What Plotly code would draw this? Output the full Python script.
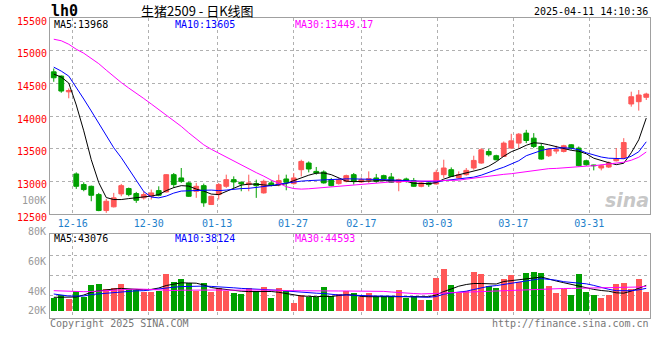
import plotly.graph_objects as go

# ---------------- data ----------------
dates = [
    "2024-12-11", "2024-12-12", "2024-12-13", "2024-12-16", "2024-12-17", "2024-12-18", "2024-12-19", "2024-12-20",
    "2024-12-23", "2024-12-24", "2024-12-25", "2024-12-26", "2024-12-27", "2024-12-30", "2024-12-31", "2025-01-02",
    "2025-01-03", "2025-01-06", "2025-01-07", "2025-01-08", "2025-01-09", "2025-01-10", "2025-01-13", "2025-01-14",
    "2025-01-15", "2025-01-16", "2025-01-17", "2025-01-20", "2025-01-21", "2025-01-22", "2025-01-23", "2025-01-24",
    "2025-01-27", "2025-02-05", "2025-02-06", "2025-02-07", "2025-02-10", "2025-02-11", "2025-02-12", "2025-02-13",
    "2025-02-14", "2025-02-17", "2025-02-18", "2025-02-19", "2025-02-20", "2025-02-21", "2025-02-24", "2025-02-25",
    "2025-02-26", "2025-02-27", "2025-02-28", "2025-03-03", "2025-03-04", "2025-03-05", "2025-03-06", "2025-03-07",
    "2025-03-10", "2025-03-11", "2025-03-12", "2025-03-13", "2025-03-14", "2025-03-17", "2025-03-18", "2025-03-19",
    "2025-03-20", "2025-03-21", "2025-03-24", "2025-03-25", "2025-03-26", "2025-03-27", "2025-03-28", "2025-03-31",
    "2025-04-01", "2025-04-02", "2025-04-03", "2025-04-07", "2025-04-08", "2025-04-09", "2025-04-10", "2025-04-11",
]

opens = [14676, 14611, 14370, 13113, 12950, 12924, 12797, 12553, 12610, 12808,
         12889, 12813, 12747, 12771, 12858, 12838, 13102, 13052, 12976, 12848,
         12934, 12645, 12797, 12924, 13026, 12985, 12950, 12965, 12823, 12976,
         12950, 13036, 12965, 13178, 13280, 13152, 13143, 13026, 12965, 13000,
         13102, 12990, 13015, 13052, 13087, 13067, 12985, 13036, 13011, 12924,
         12976, 12960, 13102, 13178, 13052, 13102, 13204, 13280, 13457, 13392,
         13381, 13509, 13585, 13738, 13661, 13533, 13392, 13463, 13457, 13559,
         13509, 13315, 13250, 13204, 13219, 13315, 13357, 14184, 14219, 14286]
highs = [14728, 14620, 14423, 13137, 12985, 12935, 12823, 12732, 12823, 12960,
         12905, 12838, 12848, 12874, 12924, 13110, 13128, 13204, 12995, 12976,
         12965, 12780, 12976, 13102, 13076, 13000, 13102, 13026, 13026, 13015,
         13102, 13102, 13128, 13331, 13305, 13220, 13168, 13052, 13052, 13102,
         13128, 13061, 13152, 13113, 13102, 13128, 13041, 13056, 13052, 13000,
         13000, 13178, 13331, 13213, 13152, 13204, 13392, 13509, 13494, 13407,
         13610, 13727, 13738, 13788, 13738, 13585, 13509, 13544, 13559, 13570,
         13533, 13331, 13254, 13254, 13305, 13509, 13661, 14372, 14397, 14356]
lows = [14524, 14356, 14271, 12884, 12848, 12695, 12543, 12518, 12600, 12771,
        12771, 12671, 12721, 12721, 12771, 12830, 12899, 12976, 12760, 12747,
        12610, 12640, 12721, 12899, 12899, 12848, 12848, 12747, 12812, 12924,
        12924, 12863, 12950, 13076, 13137, 13102, 12965, 12924, 12950, 12985,
        12950, 12976, 12976, 12976, 13000, 12976, 12848, 12980, 12915, 12909,
        12915, 12950, 13052, 13067, 13041, 13087, 13178, 13270, 13381, 13320,
        13372, 13494, 13509, 13585, 13509, 13331, 13372, 13422, 13442, 13483,
        13229, 13239, 13168, 13168, 13204, 13305, 13341, 14143, 14082, 14245]
closes = [14585, 14382, 14390, 12924, 12874, 12787, 12553, 12695, 12747, 12934,
          12797, 12710, 12797, 12823, 12787, 13102, 12950, 13000, 12771, 12924,
          12671, 12771, 12950, 13026, 12990, 12960, 12976, 12934, 13000, 12940,
          13011, 12985, 13052, 13305, 13189, 13128, 12976, 12934, 13026, 13087,
          13000, 13026, 13041, 13000, 13036, 12985, 13026, 13000, 12924, 12976,
          12950, 13137, 13204, 13076, 13102, 13168, 13320, 13483, 13407, 13331,
          13585, 13620, 13722, 13625, 13533, 13341, 13494, 13483, 13544, 13509,
          13239, 13254, 13240, 13239, 13280, 13341, 13594, 14295, 14321, 14336]

ma5 = [14641, 14596, 14504, 14169, 13773, 13331, 12980, 12752, 12721, 12721,
       12736, 12747, 12759, 12774, 12797, 12858, 12904, 12934, 12927, 12881,
       12851, 12805, 12797, 12843, 12896, 12942, 12957, 12957, 12945, 12934,
       12942, 12965, 13011, 13056, 13094, 13125, 13128, 13102, 13049, 13003,
       12995, 13000, 13011, 13011, 13011, 13011, 13003, 13000, 12970, 12965,
       12965, 12980, 13034, 13072, 13102, 13133, 13155, 13186, 13232, 13300,
       13384, 13453, 13498, 13552, 13590, 13582, 13559, 13529, 13498, 13475,
       13460, 13422, 13354, 13315, 13285, 13255, 13277, 13437, 13636, 13968]
ma10 = [14748, 14687, 14611, 14443, 14260, 14077, 13895, 13696, 13514, 13362,
        13194, 13011, 12843, 12759, 12747, 12774, 12820, 12851, 12858, 12858,
        12863, 12866, 12858, 12866, 12881, 12889, 12893, 12904, 12919, 12934,
        12957, 12973, 12995, 13003, 13011, 13018, 13026, 13034, 13037, 13038,
        13037, 13037, 13034, 13034, 13026, 13021, 13015, 13011, 13003, 12995,
        12991, 12992, 13011, 13023, 13034, 13046, 13064, 13094, 13140, 13178,
        13216, 13262, 13315, 13392, 13437, 13472, 13498, 13509, 13514, 13506,
        13483, 13437, 13407, 13372, 13354, 13346, 13346, 13384, 13453, 13605]
ma30 = [15175, 15152, 15098, 15022, 14961, 14885, 14801, 14702, 14600, 14512,
        14428, 14352, 14268, 14184, 14100, 14017, 13933, 13841, 13742, 13643,
        13559, 13491, 13430, 13369, 13308, 13247, 13186, 13133, 13079, 13018,
        12973, 12919, 12889, 12881, 12886, 12896, 12909, 12919, 12927, 12939,
        12950, 12960, 12970, 12977, 12985, 12991, 12995, 12998, 13000, 13000,
        13000, 13000, 13003, 13011, 13018, 13034, 13049, 13072, 13079, 13091,
        13107, 13117, 13133, 13155, 13171, 13178, 13194, 13198, 13209, 13216,
        13224, 13232, 13239, 13250, 13262, 13274, 13293, 13323, 13369, 13449]

volume = [21370, 27430, 20870, 33660, 24400, 43760, 45440, 37030, 38200, 45440,
          37530, 35340, 31470, 31470, 34500, 62610, 48810, 53860, 47120, 33660,
          47120, 32480, 38200, 33660, 30290, 29120, 38710, 33660, 40390, 22380,
          38710, 33660, 13970, 26930, 23560, 23560, 40390, 26090, 28610, 33660,
          30800, 24070, 30800, 25750, 24740, 24740, 35340, 21880, 25750, 18510,
          18510, 55540, 70690, 43760, 29790, 33660, 65640, 62270, 42580, 38710,
          53860, 60590, 48810, 63950, 65640, 63950, 42080, 30290, 37030, 26930,
          62270, 31980, 26930, 21880, 26930, 45440, 47120, 37030, 53860, 31980]
vol_ma5 = [23057, 23057, 23057, 23562, 26928, 31472, 33997, 36016, 37026, 38036,
           37026, 35848, 35680, 36353, 38709, 42917, 45778, 47461, 47124, 46787,
           43758, 39551, 37699, 36016, 34165, 33323, 32650, 32987, 33492, 32819,
           31472, 29621, 26928, 25245, 24740, 24067, 24740, 24404, 26087, 27433,
           26928, 24404, 24067, 24067, 24067, 24067, 24067, 24404, 25077, 24740,
           24067, 26928, 32819, 37026, 41738, 44600, 46283, 46283, 45778, 45441,
           49649, 50995, 51836, 53015, 55539, 57222, 53351, 50490, 47629, 44600,
           41402, 38709, 36353, 34502, 33323, 30631, 30000, 33500, 38500, 43076]
vol_ma10 = [28611, 26423, 25245, 25245, 25245, 27770, 28948, 30294, 31472, 32819,
            33660, 33997, 34165, 35848, 37868, 39046, 40055, 41065, 41570, 42075,
            41907, 41402, 40897, 40055, 39046, 38036, 37531, 37026, 36689, 36016,
            34838, 33660, 32482, 31136, 30294, 29957, 29453, 27770, 26928, 26928,
            26423, 25245, 25245, 25245, 25245, 25245, 24740, 24235, 23730, 23225,
            23057, 24404, 28274, 30294, 31472, 33323, 36185, 38709, 41570, 42748,
            44936, 47124, 49144, 51163, 52510, 54529, 53519, 51836, 49312, 48470,
            47797, 45778, 43085, 39551, 36521, 34165, 34165, 34165, 35680, 38124]
vol_ma30 = [34200, 33700, 32800, 32500, 32500, 32800, 33700, 34500, 35300, 36200,
            37000, 37000, 36700, 36200, 35300, 34500, 34500, 35000, 35300, 35300,
            35300, 35300, 35300, 35000, 34800, 34800, 35000, 35300, 35300, 35300,
            34800, 34500, 34200, 34000, 33700, 33700, 33700, 33700, 33700, 33700,
            33700, 33700, 33700, 33700, 33000, 32000, 30800, 30100, 29400, 28800,
            28600, 29500, 30300, 30800, 31500, 32000, 32300, 32700, 33300, 34000,
            34700, 35300, 35700, 36000, 36500, 36900, 37200, 37500, 37900, 38000,
            38200, 38200, 38200, 38200, 38400, 38700, 39000, 39400, 40400, 41600]

tick_dates = ["2024-12-16", "2024-12-30", "2025-01-13", "2025-01-27",
              "2025-02-17", "2025-03-03", "2025-03-17", "2025-03-31"]
price_ticks = [12500, 13000, 13500, 14000, 14500, 15000, 15500]
vol_tick_labels = ["100K", "80K", "60K", "40K", "20K"]

title_code = "lh0"
title_name = "生猪2509 - 日K线图"
timestamp = "2025-04-11 14:10:36"
price_ma_labels = ["MA5:13968", "MA10:13605", "MA30:13449.17"]
vol_ma_labels = ["MA5:43076", "MA10:38124", "MA30:44593"]
footer_left = "Copyright 2025 SINA.COM"
footer_right = "http://finance.sina.com.cn"

# ---------------- style ----------------
UP = "#FF5757"
DOWN = "#00A000"
GRID = "#B0B0B0"
BORDER = "#A0A0A0"
MONO = "DejaVu Sans Mono"
MA_COLORS = ["#000000", "#0000FF", "#FF00FF"]
W, H = 660, 360
L, R, T, B = 50, 10, 18, 42
MAIN_BOTTOM_PX = 214
VOL_TOP_PX = 234
VOL_BASE_PX = 311
VOL_PX = 1683  # volume units per pixel in lower panel


def px(x):
    return (x - L) / (W - L - R)


def py(y):
    return (H - B - y) / (H - T - B)


N = len(dates)
idx = list(range(N))

fig = go.Figure()

fig.add_trace(go.Candlestick(
    x=idx, open=opens, high=highs, low=lows, close=closes,
    increasing=dict(line=dict(color=UP, width=1), fillcolor=UP),
    decreasing=dict(line=dict(color=DOWN, width=1), fillcolor=DOWN),
    whiskerwidth=0, xaxis="x", yaxis="y", showlegend=False, hoverinfo="skip",
))
for arr, col in zip([ma5, ma10, ma30], MA_COLORS):
    fig.add_trace(go.Scatter(x=idx, y=arr, mode="lines", line=dict(color=col, width=1),
                             xaxis="x", yaxis="y", showlegend=False, hoverinfo="skip"))

bar_colors = [UP if c >= o else DOWN for o, c in zip(opens, closes)]
fig.add_trace(go.Bar(x=idx, y=volume, width=0.76, marker=dict(color=bar_colors, line=dict(width=0)),
                     xaxis="x2", yaxis="y2", showlegend=False, hoverinfo="skip"))
for arr, col in zip([vol_ma5, vol_ma10, vol_ma30], MA_COLORS):
    fig.add_trace(go.Scatter(x=idx, y=arr, mode="lines", line=dict(color=col, width=1),
                             xaxis="x2", yaxis="y2", showlegend=False, hoverinfo="skip"))

tick_pos = [dates.index(d) * N / (N - 1) - 0.5 for d in tick_dates]
tick_text = [d[5:] for d in tick_dates]

xcommon = dict(range=[-0.5, N - 0.5], tickmode="array", tickvals=tick_pos,
               showgrid=True, gridcolor=GRID, griddash="dot", gridwidth=1,
               zeroline=False, showline=True, mirror=True, linecolor=BORDER, linewidth=1,
               ticks="", fixedrange=True)
ycommon = dict(showgrid=True, gridcolor=GRID, griddash="dot", gridwidth=1, zeroline=False,
               showline=True, mirror=True, linecolor=BORDER, linewidth=1, ticks="", fixedrange=True)

main_dom = [py(MAIN_BOTTOM_PX), 1]
vol_dom = [0, py(VOL_TOP_PX)]
vol_range = [-(H - B - VOL_BASE_PX) * VOL_PX, (VOL_BASE_PX - VOL_TOP_PX) * VOL_PX]
vol_grid = [(VOL_BASE_PX - g) * VOL_PX for g in (295, 275, 255)]

fig.update_layout(
    width=W, height=H, margin=dict(l=L, r=R, t=T, b=B),
    paper_bgcolor="white", plot_bgcolor="white", showlegend=False,
    boxgap=0.25, boxgroupgap=0.15, bargap=0,
    xaxis=dict(**xcommon, ticktext=tick_text, anchor="y", domain=[0, 1],
               tickfont=dict(family=MONO, size=10, color="#1E7FCB"),
               rangeslider=dict(visible=False)),
    xaxis2=dict(**xcommon, showticklabels=False, anchor="y2", domain=[0, 1]),
    yaxis=dict(**ycommon, domain=main_dom, range=[price_ticks[0], price_ticks[-1]],
               tickmode="array", tickvals=price_ticks, tickformat="d", ticklabelshift=3,
               tickfont=dict(family=MONO, size=10, color="#FF0000"), anchor="x"),
    yaxis2=dict(**ycommon, domain=vol_dom, range=vol_range, tickmode="array",
                tickvals=vol_grid, showticklabels=False, anchor="x2"),
)

ann = []


def note(text, x, y, color, size=10, anchor="left", family=MONO, **font_kw):
    ann.append(dict(text=text, x=px(x), y=py(y), xref="paper", yref="paper",
                    xanchor=anchor, yanchor="middle", showarrow=False,
                    font=dict(family=family, size=size, color=color, **font_kw)))


note("<b>" + title_code + "</b>", 49, 11, "#000000", size=15)
note(title_name, 139, 11, "#000000", size=13, family="Noto Sans CJK SC")
note(timestamp, 650, 12, "#000000", anchor="right")
for lab, xx, col in zip(price_ma_labels, [52, 173, 293], MA_COLORS):
    note(lab, xx, 24, col)
for lab, xx, col in zip(vol_ma_labels, [52, 173, 293], MA_COLORS):
    note(lab, xx, 238.5, col)
for lab, yy in zip(vol_tick_labels, [200, 231, 261, 291, 310]):
    note(lab, 48, yy, "#999999", anchor="right")
note(footer_left, 48, 323, "#777777")
note(footer_right, 651, 323, "#777777", anchor="right")
note("sina", 627, 200, "rgba(150,150,150,0.55)", size=19, anchor="center",
     family="DejaVu Sans", style="italic", weight="bold")

fig.update_layout(annotations=ann)
fig.write_html("out.html", config={"displayModeBar": False},
               post_script="document.body.style.margin='0';")
